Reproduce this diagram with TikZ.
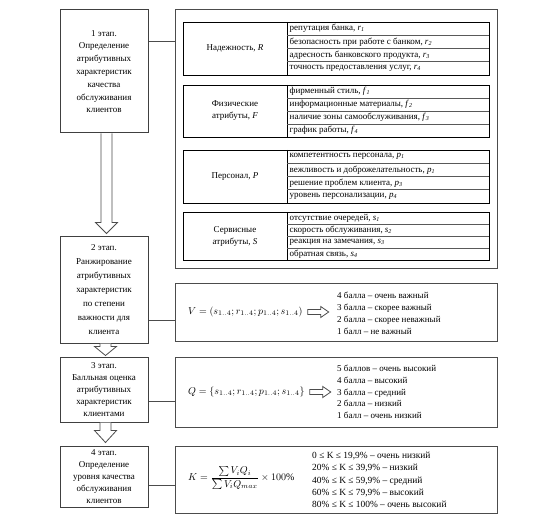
\documentclass[tikz,border=0pt]{standalone}
\usepackage{amsmath}
\usepackage{fontspec}
\setmainfont{Liberation Serif}
\usetikzlibrary{calc}
\newcommand\vr[2]{\textit{#1}\textsubscript{\textit{#2}}}
\tikzset{
  stage/.style={draw=black!75, line width=1pt, minimum width=88pt, align=center, inner sep=0pt, font=\fontsize{9}{12.8}\selectfont},
  panel/.style={draw=black!70, line width=1.2pt, anchor=north west, minimum width=322pt, inner sep=0pt},
  tbl/.style={draw=black, line width=0.8pt},
  rowline/.style={draw=black!65, line width=0.7pt},
  lbl/.style={align=center, inner sep=0pt, font=\fontsize{9}{12}\selectfont},
  item/.style={anchor=west, inner sep=0pt, font=\fontsize{9}{11}\selectfont},
  conn/.style={draw=black!70, line width=1pt},
  harrow/.style={draw=black!70, line width=0.8pt, fill=white, line join=miter},
  lst/.style={anchor=west, align=left, inner sep=0pt},
  frm/.style={anchor=west, inner sep=0pt, font=\fontsize{10}{12}\selectfont},
}
% table: #1 name, #2 top, #3 bottom, #4 label, #5-#8 items
\newcommand\attrtable[8]{%
  \pgfmathsetmacro\tbH{(#3-#2)/4}
  \draw[tbl] (183,#2) rectangle (489,#3);
  \draw[tbl] (287,#2) -- (287,#3);
  \foreach \k in {1,2,3} {\draw[rowline] (287,{#2+\k*\tbH}) -- (489,{#2+\k*\tbH});}
  \node[lbl] (#1L) at (235,{(#2+#3)/2}) {#4};
  \node[item] (#1a) at (289.5,{#2+0.5*\tbH}) {#5};
  \node[item] (#1b) at (289.5,{#2+1.5*\tbH}) {#6};
  \node[item] (#1c) at (289.5,{#2+2.5*\tbH}) {#7};
  \node[item] (#1d) at (289.5,{#2+3.5*\tbH}) {#8};
}
% hollow down arrow: #1 from, #2 to, #3 head length, #4 x shift, #5 gap
\newcommand\hollowdown[5]{%
  \draw[harrow] ($(#1.south)+(#4-5.5,0)$) -- ($(#2.north)+(#4-5.5,-#3-#5)$)
    -- ($(#2.north)+(#4-11,-#3-#5)$) -- ($(#2.north)+(#4,-#5)$)
    -- ($(#2.north)+(#4+11,-#3-#5)$) -- ($(#2.north)+(#4+5.5,-#3-#5)$)
    -- ($(#1.south)+(#4+5.5,0)$);}
% small hollow right arrow after node #1
\newcommand\hollowright[1]{%
  \draw[harrow] ($(#1.east)+(5,-2.5)$) -- ++(13,0) -- ++(0,-3) -- ++(8,5.5)
    -- ++(-8,5.5) -- ++(0,-3) -- ++(-13,0) -- cycle;}
\begin{document}
\begin{tikzpicture}[x=1pt,y=-1pt]
\useasboundingbox (0,0) rectangle (542,527);

% stage boxes
\node[stage, minimum height=123pt] (s1) at (104,71.5)
  {1 этап.\\Определение\\атрибутивных\\характеристик\\качества\\обслуживания\\клиентов};
\node[stage, minimum height=106pt, font=\fontsize{9}{14}\selectfont] (s2) at (104,290)
  {2 этап.\\Ранжирование\\атрибутивных\\характеристик\\по степени\\важности для\\клиента};
\node[stage, minimum height=65pt, font=\fontsize{9}{12}\selectfont] (s3) at (104,389.5)
  {3 этап.\\Балльная оценка\\атрибутивных\\характеристик\\клиентами};
\node[stage, minimum height=61pt, font=\fontsize{9}{11.8}\selectfont] (s4) at (104,476.5)
  {4 этап.\\Определение\\уровня качества\\обслуживания\\клиентов};

\hollowdown{s1}{s2}{11}{2.5}{3}
\hollowdown{s2}{s3}{9}{1.5}{1}
\hollowdown{s3}{s4}{12}{1.5}{3}

% attribute frame
\node[panel, minimum height=259pt] (frame) at (175,9) {};
\attrtable{R}{22}{75}{Надежность, \textit{R}}
  {репутация банка, \vr{r}{1}}
  {безопасность при работе с банком, \vr{r}{2}}
  {адресность банковского продукта, \vr{r}{3}}
  {точность предоставления услуг, \vr{r}{4}}
\attrtable{F}{85}{137}{Физические\\атрибуты, \textit{F}}
  {фирменный стиль, \vr{f}{1}}
  {информационные материалы, \vr{f}{2}}
  {наличие зоны самообслуживания, \vr{f}{3}}
  {график работы, \vr{f}{4}}
\attrtable{P}{150}{203}{Персонал, \textit{P}}
  {компетентность персонала, \vr{p}{1}}
  {вежливость и доброжелательность, \vr{p}{1}}
  {решение проблем клиента, \vr{p}{3}}
  {уровень персонализации, \vr{p}{4}}
\attrtable{S}{212}{260}{Сервисные\\атрибуты, \textit{S}}
  {отсутствие очередей, \vr{s}{1}}
  {скорость обслуживания, \vr{s}{2}}
  {реакция на замечания, \vr{s}{3}}
  {обратная связь, \vr{s}{4}}

% V box
\node[panel, minimum height=58pt] (vbox) at (175,283) {};
\node[frm] (vf) at (188,312) {$V=(s_{1..4};r_{1..4};p_{1..4};s_{1..4})$};
\hollowright{vf}
\node[lst, font=\fontsize{9}{12}\selectfont] (vl) at (337,313)
  {4 балла – очень важный\\3 балла – скорее важный\\2 балла – скорее неважный\\1 балл – не важный};

% Q box
\node[panel, minimum height=70pt] (qbox) at (175,357) {};
\node[frm] (qf) at (188,392) {$Q=\{s_{1..4};r_{1..4};p_{1..4};s_{1..4}\}$};
\hollowright{qf}
\node[lst, font=\fontsize{9}{11.8}\selectfont] (ql) at (337,392)
  {5 баллов – очень высокий\\4 балла – высокий\\3 балла – средний\\2 балла – низкий\\1 балл – очень низкий};

% K box
\node[panel, minimum height=67pt] (kbox) at (175,446) {};
\node[frm] (kf) at (188,478) {$K=\dfrac{\sum V_iQ_i}{\sum V_iQ_{max}}\times 100\%$};
\node[lst, font=\fontsize{9.4}{12.4}\selectfont] (kl) at (312,480)
  {0 ≤ K ≤ 19,9\% – очень низкий\\20\% ≤ K ≤ 39,9\% – низкий\\40\% ≤ K ≤ 59,9\% – средний\\60\% ≤ K ≤ 79,9\% – высокий\\80\% ≤ K ≤ 100\% – очень высокий};

% connectors
\draw[conn] (s1.east |- {(0,42)}) -- (frame.west |- {(0,42)});
\draw[conn] (s2.east |- {(0,320)}) -- (vbox.west |- {(0,320)});
\draw[conn] (s3.east |- {(0,401)}) -- (qbox.west |- {(0,401)});
\draw[conn] (s4.east |- {(0,485)}) -- (kbox.west |- {(0,485)});
\end{tikzpicture}
\end{document}
